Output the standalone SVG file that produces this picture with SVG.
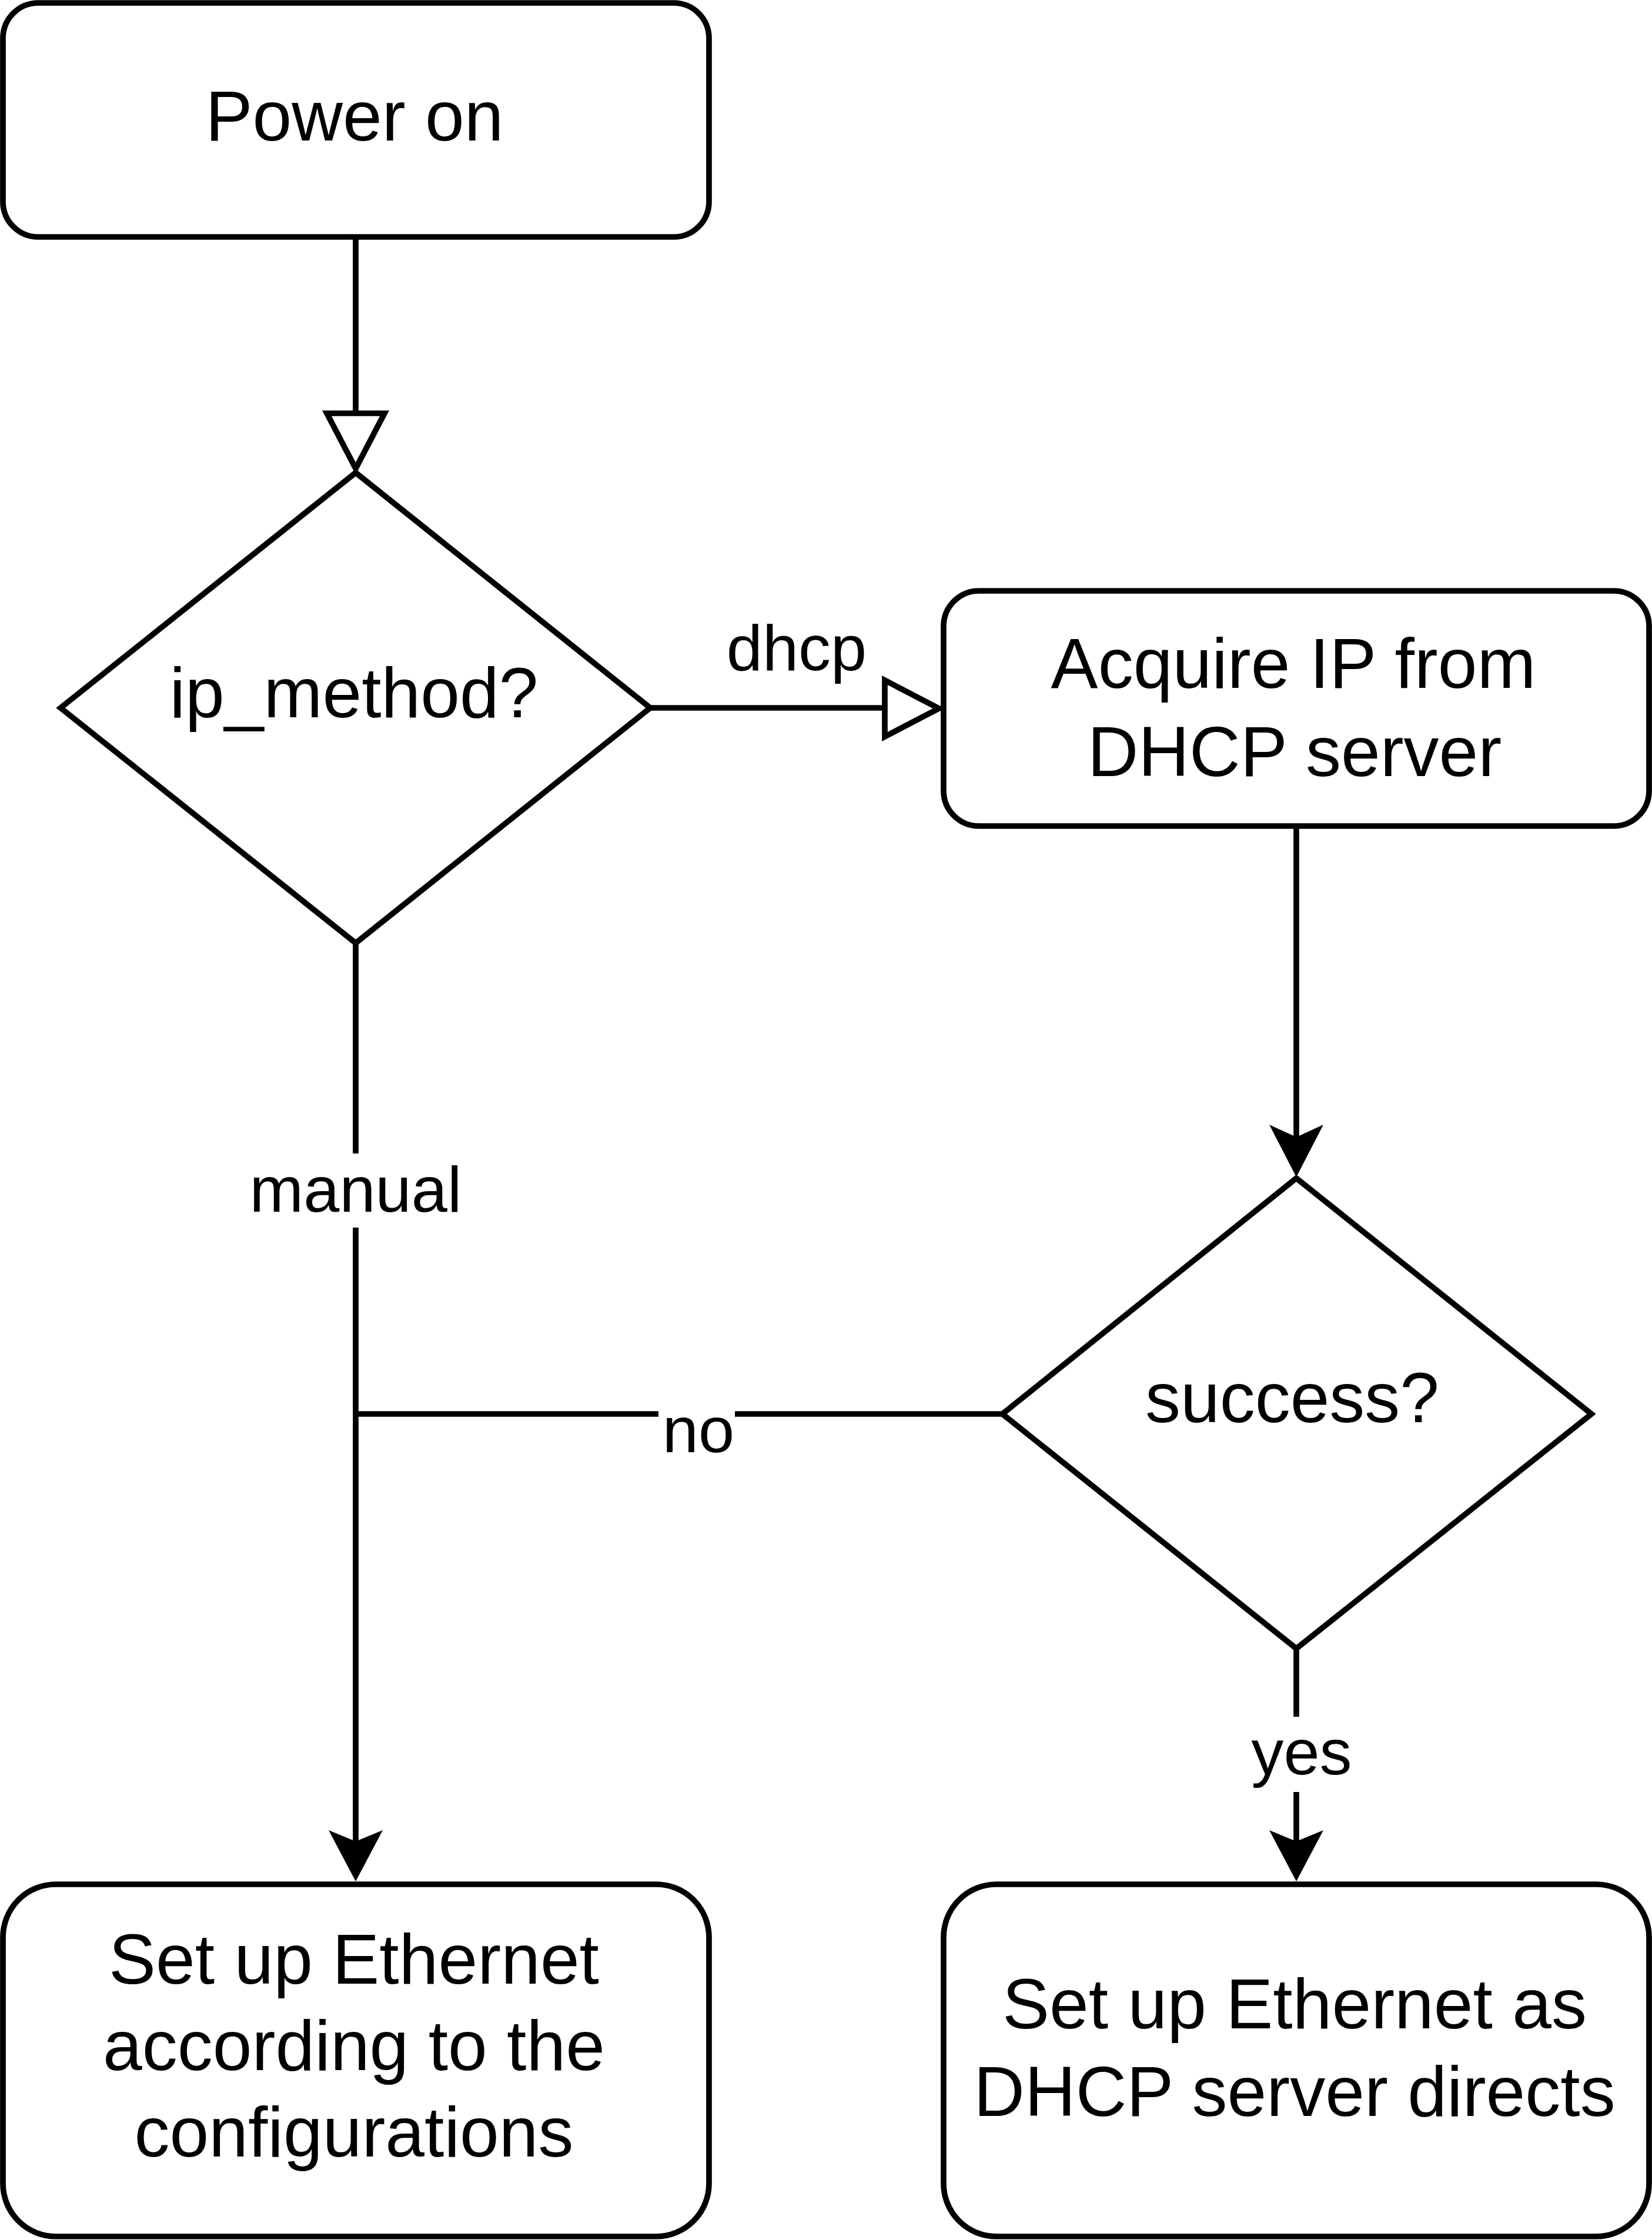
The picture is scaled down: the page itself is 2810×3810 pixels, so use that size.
<svg xmlns="http://www.w3.org/2000/svg" width="2810" height="3810" viewBox="0 0 2810 3810">
<style>
.box{fill:#fff;stroke:#000;stroke-width:9.7}
.dia{fill:#fff;stroke:#000;stroke-width:9.7;stroke-linejoin:miter}
.t{font-family:"Liberation Sans",Arial,sans-serif;font-size:120px;fill:#000;text-anchor:middle}
.lbl{font-family:"Liberation Sans",Arial,sans-serif;font-size:110px;fill:#000;text-anchor:middle}
.edge{fill:none;stroke:#000;stroke-width:9.7}
.open{fill:#fff;stroke:#000;stroke-width:9.7;stroke-linejoin:miter}
.filled{fill:#000;stroke:none}
.bg{fill:#fff;stroke:none}
</style>
<rect width="2810" height="3810" fill="#fff"/>
<g id="connectors">
  <path class="edge" d="M605,403 V703"/>
  <polygon class="open" points="556,703 654,703 605,797"/>
  <path class="edge" d="M1106,1204 H1505"/>
  <polygon class="open" points="1505,1157 1505,1253 1597,1205"/>
  <path class="edge" d="M2205,1405 V1935"/>
  <polygon class="filled" points="2205,2002 2159,1913 2205,1934 2251,1913"/>
  <path class="edge" d="M605,1604 V3135"/>
  <polygon class="filled" points="605,3200 559,3113 605,3132 651,3113"/>
  <path class="edge" d="M1705,2405 H605"/>
  <path class="edge" d="M2205,2804 V3135"/>
  <polygon class="filled" points="2205,3200 2159,3113 2205,3132 2251,3113"/>
  <text class="lbl" x="1355" y="1140">dhcp</text>
  <rect class="bg" x="422" y="1962" width="366" height="126"/>
  <text class="lbl" x="605" y="2061">manual</text>
  <rect class="bg" x="1120" y="2396" width="130" height="90"/>
  <text class="lbl" x="1188" y="2470">no</text>
  <rect class="bg" x="2123" y="2920" width="182" height="128"/>
  <text class="lbl" x="2214" y="3018">yes</text>
</g>
<g id="power-on">
  <rect class="box" x="5" y="5" width="1201" height="398" rx="60" ry="60"/>
  <text class="t" x="603" y="239">Power on</text>
</g>
<g id="ip-method">
  <polygon class="dia" points="103,1204 605,804 1106,1204 605,1604"/>
  <text class="t" x="602" y="1220">ip_method?</text>
</g>
<g id="acquire-ip">
  <rect class="box" x="1605" y="1005" width="1200" height="400" rx="60" ry="60"/>
  <text class="t" x="2200" y="1170">Acquire IP from</text>
  <text class="t" x="2202" y="1320">DHCP server</text>
</g>
<g id="success">
  <polygon class="dia" points="1705,2405 2205,2004 2707,2405 2205,2804"/>
  <text class="t" x="2198" y="2419">success?</text>
</g>
<g id="setup-manual">
  <rect class="box" x="5" y="3205" width="1201" height="599" rx="90" ry="90"/>
  <text class="t" x="602" y="3374">Set up Ethernet</text>
  <text class="t" x="602" y="3521">according to the</text>
  <text class="t" x="602" y="3668">configurations</text>
</g>
<g id="setup-dhcp">
  <rect class="box" x="1605" y="3205" width="1200" height="599" rx="90" ry="90"/>
  <text class="t" x="2202" y="3450">Set up Ethernet as</text>
  <text class="t" x="2202" y="3599">DHCP server directs</text>
</g>
</svg>
